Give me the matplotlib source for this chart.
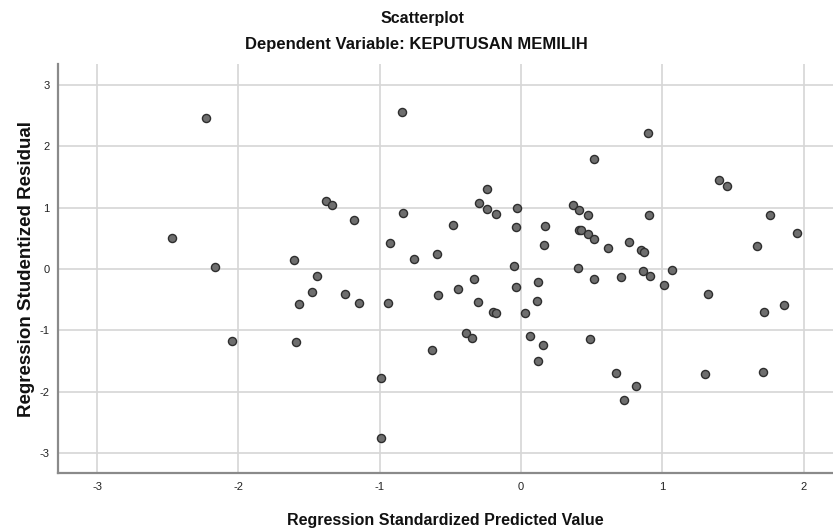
import matplotlib
matplotlib.use("Agg")
import matplotlib.pyplot as plt

predicted = [
    -2.231, -2.468, -2.166, -1.604,
    -0.840, -1.382, -1.335, -1.182, -0.833, -0.929, -0.755, -0.597, -0.483,
    -0.238, -0.295, -0.238, -0.179, -0.028, -0.038, -0.047, 0.170, 0.161,
    0.897, 0.519, 1.399, 1.456, 0.366, 0.413, 0.472, 0.906, 1.764,
    0.413, 0.422, 0.472, 0.519, 0.613, 0.764, 0.849, 0.868, 1.670, 1.955,
    -1.442, -1.477, -1.571, -2.043, -1.590,
    -1.248, -1.144, -0.939, -0.587, -0.444, -0.333, -0.302, -0.200, -0.179,
    -0.038, 0.120, 0.113, 0.026, -0.389, -0.347, -0.632, 0.064, 0.153,
    0.120, -0.993, -0.993,
    0.406, 0.519, 0.708, 0.861, 0.915, 1.069, 1.010, 1.321, 1.720, 1.861,
    0.488, 0.670, 0.812, 0.727, 1.302, 1.710,
]
residual = [
    2.458, 0.511, 0.033, 0.152,
    2.566, 1.114, 1.039, 0.805, 0.919, 0.419, 0.158, 0.239, 0.712,
    1.310, 1.071, 0.984, 0.902, 1.000, 0.685, 0.054, 0.696, 0.386,
    2.224, 1.789, 1.457, 1.354, 1.039, 0.968, 0.886, 0.876, 0.876,
    0.641, 0.631, 0.566, 0.484, 0.343, 0.440, 0.310, 0.282, 0.370, 0.587,
    -0.109, -0.381, -0.571, -1.169, -1.196,
    -0.408, -0.560, -0.549, -0.424, -0.321, -0.168, -0.544, -0.701, -0.718,
    -0.288, -0.207, -0.517, -0.718, -1.049, -1.131, -1.327, -1.093, -1.240,
    -1.506, -1.773, -2.752,
    0.011, -0.163, -0.125, -0.033, -0.114, -0.021, -0.261, -0.413, -0.701, -0.587,
    -1.147, -1.697, -1.909, -2.132, -1.708, -1.675,
]
x_ticks = [-3, -2, -1, 0, 1, 2]
y_ticks = [-3, -2, -1, 0, 1, 2, 3]

plt.rcParams['font.family'] = ['Liberation Sans', 'DejaVu Sans']

fig = plt.figure(figsize=(8.33, 5.31), dpi=100)
ax = fig.add_axes([0.0693, 0.1087, 0.9307, 0.7702])

ax.scatter(predicted, residual, s=34, facecolor='#6e6e6e', edgecolor='#2e2e2e',
           linewidth=1.0, zorder=3)

ax.set_xlim(-3.279, 2.208)
ax.set_ylim(-3.33, 3.34)
ax.set_xticks(x_ticks)
ax.set_yticks(y_ticks)
ax.set_xticklabels([str(v) for v in x_ticks])
ax.set_yticklabels([str(v) for v in y_ticks])
ax.tick_params(axis='both', length=0, labelsize=8, colors='#222222', pad=6)
ax.grid(True, color='#d6d6d6', linewidth=1.2, zorder=0)
ax.set_axisbelow(True)

for side in ['top', 'right']:
    ax.spines[side].set_visible(False)
for side in ['left', 'bottom']:
    ax.spines[side].set_color('#8a8a8a')
    ax.spines[side].set_linewidth(1.6)

ax.set_xlabel('Regression Standardized Predicted Value', fontsize=11.5,
              fontweight='bold', labelpad=15.5, color='#111111')
ax.set_ylabel('Regression Studentized Residual', fontsize=13.5,
              fontweight='bold', labelpad=3, color='#111111')

fig.text(0.507, 1 - 18 / 531, 'Scatterplot', ha='center', va='center',
         fontsize=11.5, fontweight='bold', color='#111111')
fig.text(0.5, 1 - 44 / 531, 'Dependent Variable: KEPUTUSAN MEMILIH', ha='center',
         va='center', fontsize=12, fontweight='bold', color='#111111')

fig.savefig('out.png', dpi=100)
